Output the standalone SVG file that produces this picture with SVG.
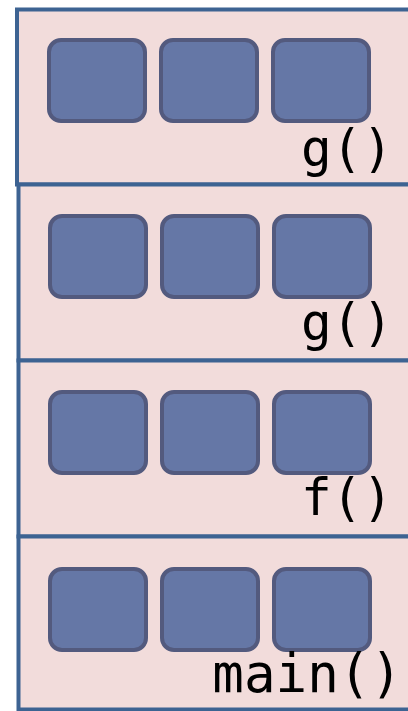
<svg xmlns="http://www.w3.org/2000/svg" width="408" height="711" viewBox="0 0 408 711">
  <style>
    .frame { fill: #f2dcdb; stroke: #3d6392; stroke-width: 4; }
    .cell { fill: #6577a6; stroke: #535a7e; stroke-width: 4; }
    .lbl { font-family: "DejaVu Sans Mono", "Liberation Mono", monospace; font-size: 51px; fill: #000000; text-anchor: end; }
  </style>
  <rect x="0" y="0" width="408" height="711" fill="#ffffff"/>
  <g id="frame-g1">
    <rect class="frame" x="17" y="9.5" width="400" height="175"/>
    <rect class="cell" x="49" y="40" width="96" height="81" rx="12"/>
    <rect class="cell" x="161" y="40" width="96" height="81" rx="12"/>
    <rect class="cell" x="273" y="40" width="96" height="81" rx="12"/>
    <text class="lbl" x="393" y="166">g()</text>
  </g>
  <g id="frame-g2">
    <rect class="frame" x="18.5" y="184.5" width="400" height="176"/>
    <rect class="cell" x="50" y="216" width="96" height="81" rx="12"/>
    <rect class="cell" x="162" y="216" width="96" height="81" rx="12"/>
    <rect class="cell" x="274" y="216" width="96" height="81" rx="12"/>
    <text class="lbl" x="393" y="340">g()</text>
  </g>
  <g id="frame-f">
    <rect class="frame" x="18.5" y="360.5" width="400" height="176"/>
    <rect class="cell" x="50" y="392" width="96" height="81" rx="12"/>
    <rect class="cell" x="162" y="392" width="96" height="81" rx="12"/>
    <rect class="cell" x="274" y="392" width="96" height="81" rx="12"/>
    <text class="lbl" x="393" y="515">f()</text>
  </g>
  <g id="frame-main">
    <rect class="frame" x="18.5" y="536.5" width="400" height="173"/>
    <rect class="cell" x="50" y="569" width="96" height="81" rx="12"/>
    <rect class="cell" x="162" y="569" width="96" height="81" rx="12"/>
    <rect class="cell" x="274" y="569" width="96" height="81" rx="12"/>
    <text class="lbl" x="402" y="692" style="font-size:52.5px">main()</text>
  </g>
  <g id="connectors"></g>
</svg>
